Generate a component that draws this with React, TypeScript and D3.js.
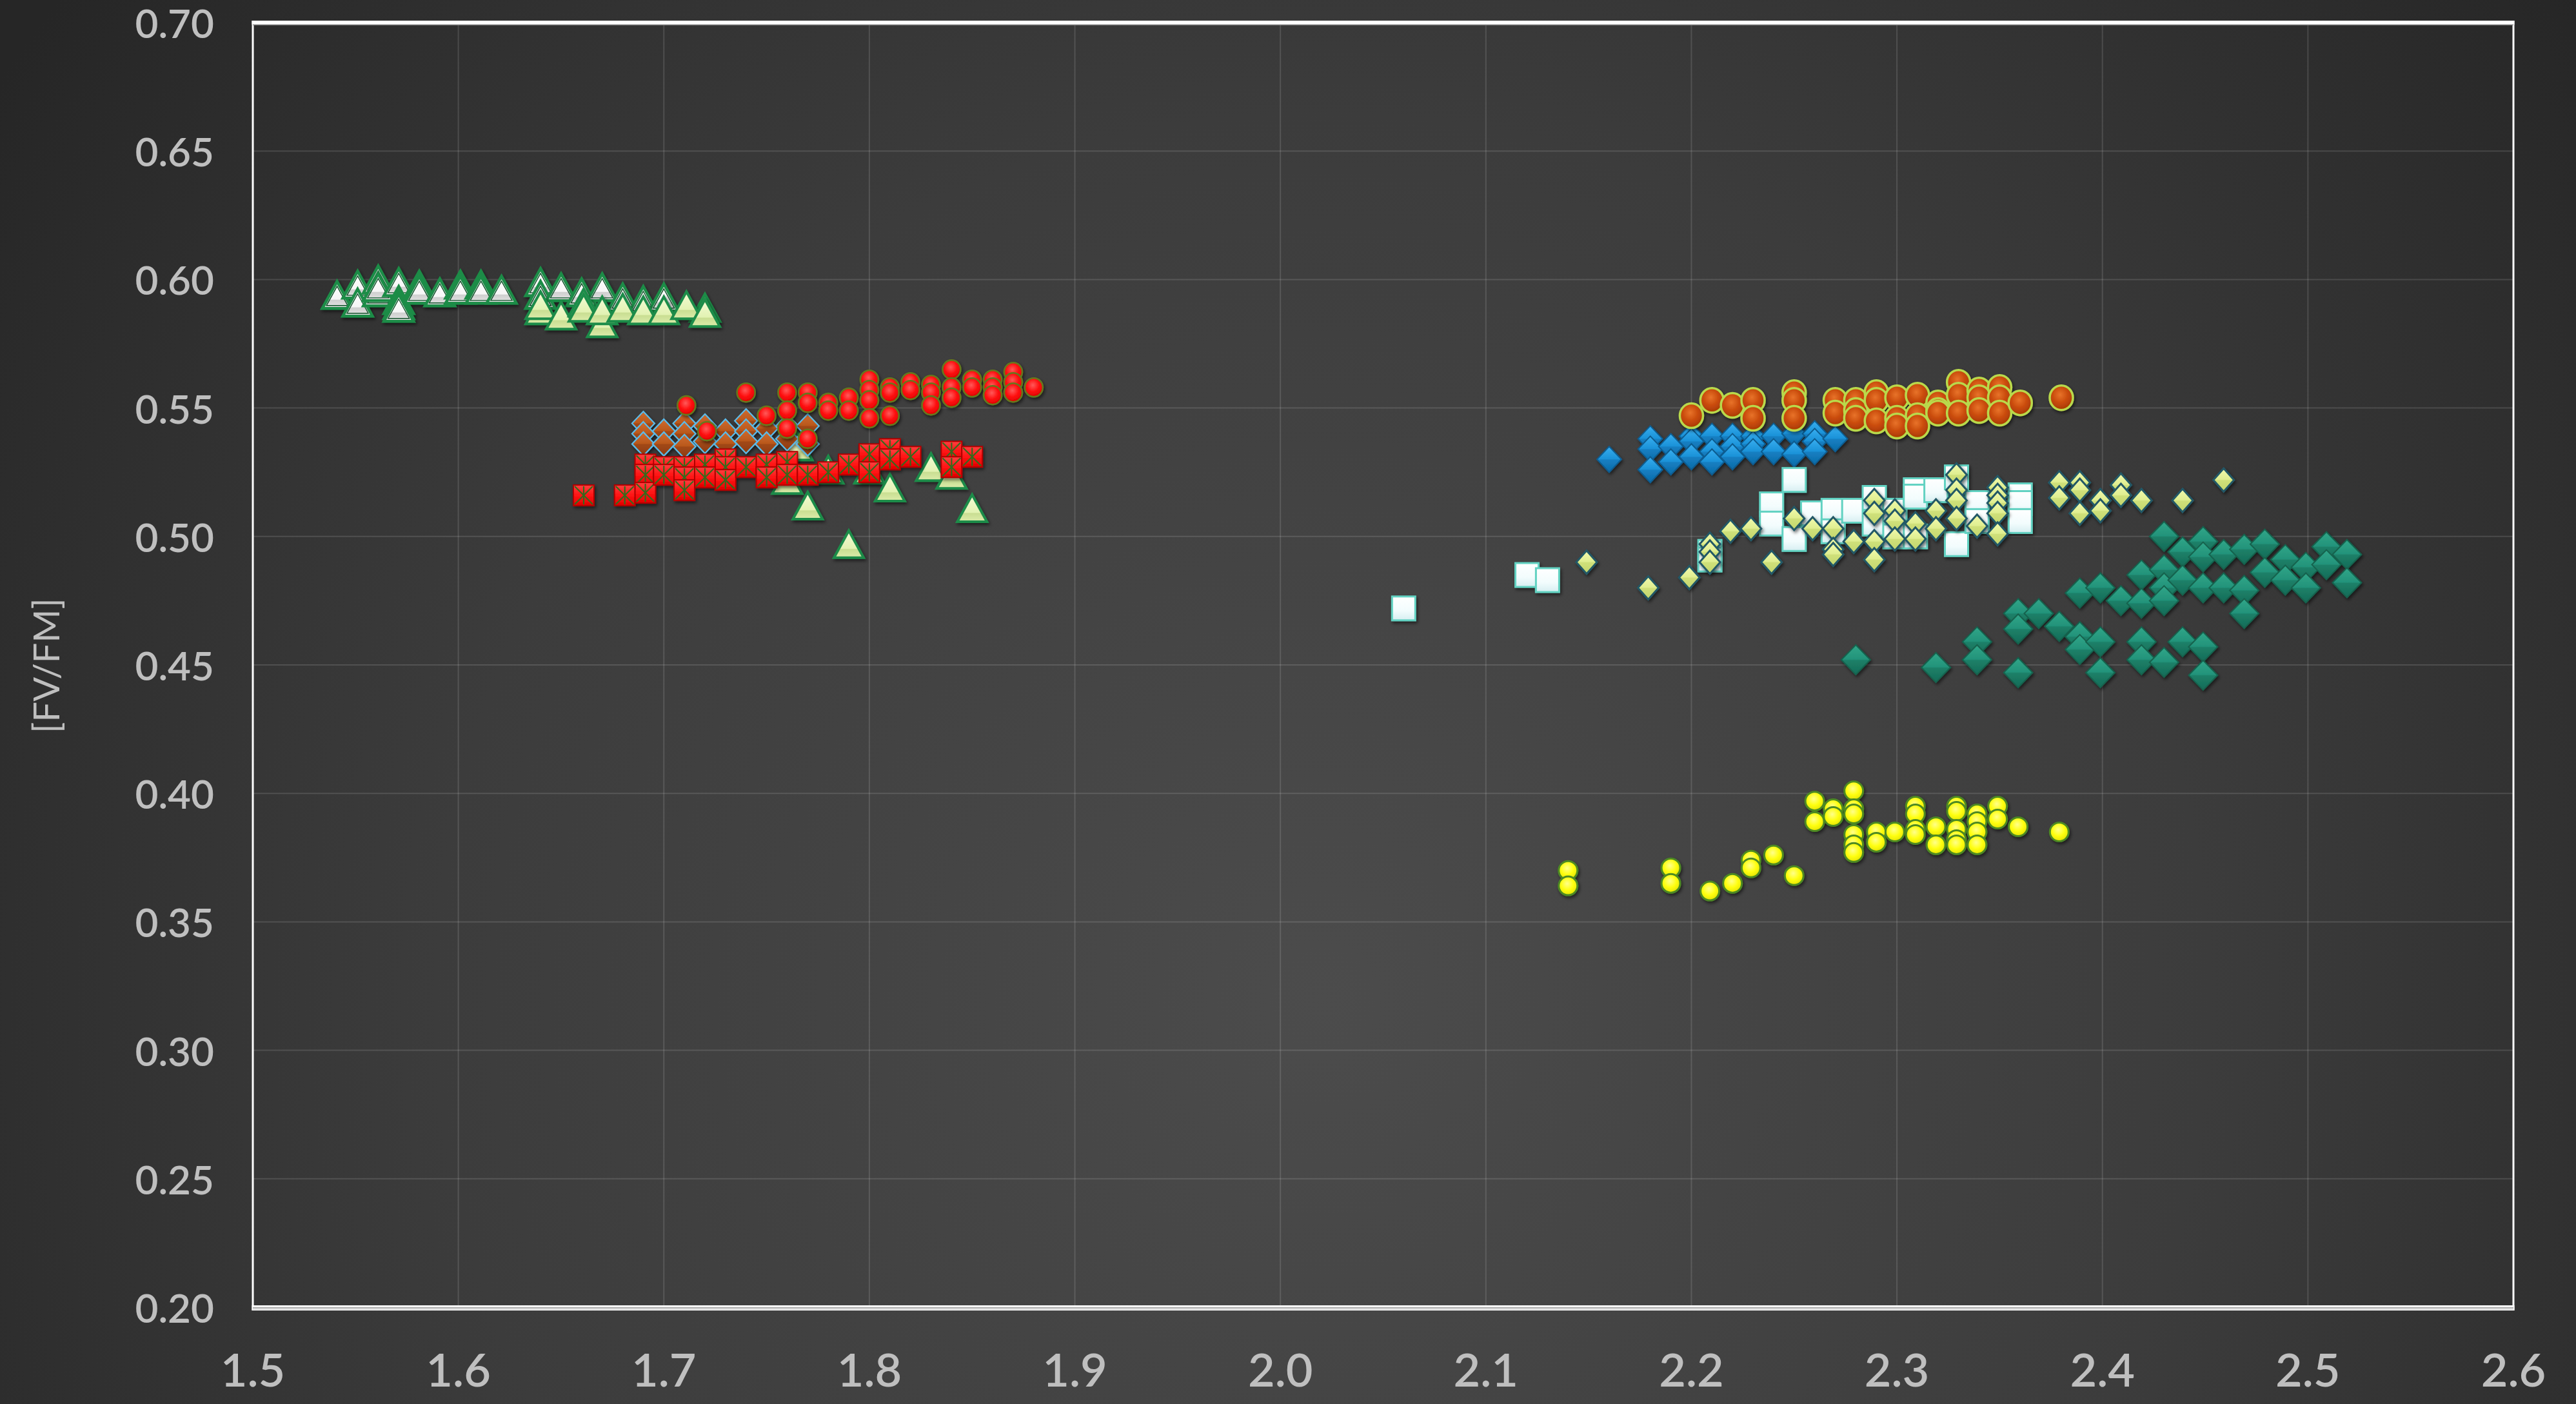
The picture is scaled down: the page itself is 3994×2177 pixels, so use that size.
import React from 'react';
import * as d3 from 'd3';

type Pt = [number, number];

// Axis ticks and title
const xTicks = [1.5, 1.6, 1.7, 1.8, 1.9, 2.0, 2.1, 2.2, 2.3, 2.4, 2.5, 2.6];
const yTicks = [0.2, 0.25, 0.3, 0.35, 0.4, 0.45, 0.5, 0.55, 0.6, 0.65, 0.7];
const yAxisTitle = '[FV/FM]';

// Series values: [x, FV/FM]
const whiteTriangles: Pt[] = [
  [1.541, 0.594], [1.551, 0.598], [1.551, 0.591], [1.561, 0.6], [1.561, 0.595], [1.561, 0.597],
  [1.571, 0.599], [1.571, 0.592], [1.571, 0.59], [1.571, 0.589], [1.581, 0.598], [1.581, 0.596],
  [1.591, 0.595], [1.601, 0.598], [1.601, 0.596], [1.611, 0.598], [1.611, 0.596], [1.621, 0.596],
  [1.64, 0.599], [1.64, 0.594], [1.65, 0.597], [1.66, 0.595], [1.67, 0.597], [1.68, 0.593],
  [1.69, 0.592], [1.7, 0.593], [1.72, 0.589],
];

const paleTriangles: Pt[] = [
  [1.64, 0.588], [1.64, 0.59], [1.65, 0.586], [1.661, 0.591], [1.661, 0.589], [1.67, 0.583],
  [1.67, 0.588], [1.68, 0.589], [1.69, 0.588], [1.7, 0.588], [1.711, 0.59], [1.72, 0.587],
  [1.765, 0.535], [1.76, 0.522], [1.77, 0.512], [1.78, 0.526], [1.79, 0.497], [1.8, 0.526],
  [1.81, 0.519], [1.83, 0.527], [1.84, 0.524], [1.85, 0.511],
];

const brownDiamonds: Pt[] = [
  [1.69, 0.544], [1.69, 0.54], [1.69, 0.536], [1.7, 0.541], [1.7, 0.536], [1.71, 0.544],
  [1.71, 0.54], [1.71, 0.535], [1.72, 0.543], [1.72, 0.537], [1.73, 0.541], [1.73, 0.536],
  [1.74, 0.545], [1.74, 0.541], [1.74, 0.537], [1.75, 0.542], [1.75, 0.536], [1.76, 0.543],
  [1.76, 0.538], [1.77, 0.543], [1.77, 0.536],
];

const redRects: Pt[] = [
  [1.661, 0.516], [1.681, 0.516], [1.691, 0.528], [1.691, 0.524], [1.691, 0.517], [1.7, 0.527],
  [1.7, 0.524], [1.71, 0.527], [1.71, 0.523], [1.71, 0.518], [1.72, 0.528], [1.72, 0.523],
  [1.73, 0.53], [1.73, 0.527], [1.73, 0.522], [1.74, 0.527], [1.75, 0.528], [1.75, 0.523],
  [1.76, 0.529], [1.76, 0.524], [1.77, 0.524], [1.78, 0.525], [1.79, 0.528], [1.8, 0.532],
  [1.8, 0.525], [1.81, 0.534], [1.81, 0.53], [1.82, 0.531], [1.84, 0.533], [1.84, 0.527],
  [1.85, 0.531],
];

const redCircles: Pt[] = [
  [1.711, 0.551], [1.74, 0.556], [1.721, 0.541], [1.75, 0.547], [1.76, 0.556], [1.76, 0.549],
  [1.76, 0.542], [1.77, 0.556], [1.77, 0.552], [1.77, 0.538], [1.78, 0.552], [1.78, 0.549],
  [1.79, 0.554], [1.79, 0.549], [1.8, 0.561], [1.8, 0.557], [1.8, 0.553], [1.8, 0.546],
  [1.81, 0.558], [1.81, 0.556], [1.81, 0.547], [1.82, 0.56], [1.82, 0.557], [1.83, 0.559],
  [1.83, 0.556], [1.83, 0.551], [1.84, 0.565], [1.84, 0.558], [1.84, 0.554], [1.85, 0.561],
  [1.85, 0.558], [1.86, 0.561], [1.86, 0.558], [1.86, 0.555], [1.87, 0.564], [1.87, 0.56],
  [1.87, 0.556], [1.88, 0.558],
];

const blueDiamonds: Pt[] = [
  [2.16, 0.53], [2.18, 0.538], [2.18, 0.534], [2.18, 0.526], [2.19, 0.535], [2.19, 0.529],
  [2.2, 0.539], [2.2, 0.537], [2.2, 0.531], [2.21, 0.539], [2.21, 0.533], [2.21, 0.529],
  [2.22, 0.539], [2.22, 0.535], [2.22, 0.531], [2.23, 0.539], [2.23, 0.536], [2.23, 0.533],
  [2.24, 0.539], [2.24, 0.533], [2.25, 0.54], [2.25, 0.532], [2.26, 0.54], [2.26, 0.537],
  [2.26, 0.533], [2.27, 0.538],
];

const orangeCircles: Pt[] = [
  [2.2, 0.547], [2.21, 0.553], [2.22, 0.551], [2.23, 0.553], [2.23, 0.546], [2.25, 0.556],
  [2.25, 0.553], [2.25, 0.546], [2.27, 0.553], [2.27, 0.548], [2.28, 0.553], [2.28, 0.549],
  [2.28, 0.546], [2.29, 0.556], [2.29, 0.553], [2.29, 0.545], [2.3, 0.554], [2.3, 0.546],
  [2.3, 0.543], [2.31, 0.555], [2.31, 0.547], [2.31, 0.543], [2.32, 0.552], [2.32, 0.549],
  [2.32, 0.548], [2.33, 0.56], [2.33, 0.555], [2.33, 0.548], [2.34, 0.557], [2.34, 0.554],
  [2.34, 0.549], [2.35, 0.558], [2.35, 0.554], [2.35, 0.548], [2.36, 0.552], [2.38, 0.554],
];

const whiteRects: Pt[] = [
  [2.06, 0.472], [2.12, 0.485], [2.13, 0.483], [2.209, 0.494], [2.209, 0.491], [2.239, 0.5125],
  [2.239, 0.505], [2.25, 0.522], [2.25, 0.499], [2.259, 0.509], [2.269, 0.51], [2.269, 0.502],
  [2.279, 0.51], [2.289, 0.515], [2.289, 0.505], [2.299, 0.51], [2.299, 0.5], [2.309, 0.518],
  [2.309, 0.5155], [2.309, 0.5], [2.319, 0.518], [2.329, 0.523], [2.329, 0.497], [2.339, 0.513],
  [2.339, 0.506], [2.36, 0.516], [2.36, 0.513], [2.36, 0.506],
];

const ygDiamonds: Pt[] = [
  [2.149, 0.49], [2.179, 0.48], [2.199, 0.484], [2.209, 0.497], [2.209, 0.494], [2.209, 0.49],
  [2.219, 0.502], [2.229, 0.503], [2.239, 0.49], [2.25, 0.507], [2.259, 0.503], [2.269, 0.503],
  [2.269, 0.495], [2.269, 0.493], [2.279, 0.498], [2.289, 0.514], [2.289, 0.509], [2.289, 0.498],
  [2.289, 0.491], [2.299, 0.51], [2.299, 0.506], [2.299, 0.499], [2.309, 0.505], [2.309, 0.499],
  [2.319, 0.51], [2.319, 0.503], [2.329, 0.524], [2.329, 0.518], [2.329, 0.514], [2.329, 0.507],
  [2.339, 0.504], [2.349, 0.519], [2.349, 0.516], [2.349, 0.513], [2.349, 0.509], [2.349, 0.501],
  [2.379, 0.521], [2.379, 0.515], [2.389, 0.521], [2.389, 0.518], [2.389, 0.509], [2.399, 0.514],
  [2.399, 0.51], [2.409, 0.52], [2.409, 0.516], [2.419, 0.514], [2.439, 0.514], [2.459, 0.522],
];

const tealDiamonds: Pt[] = [
  [2.28, 0.452], [2.319, 0.449], [2.339, 0.459], [2.339, 0.452], [2.359, 0.47], [2.359, 0.464],
  [2.359, 0.447], [2.369, 0.47], [2.379, 0.465], [2.389, 0.478], [2.389, 0.461], [2.389, 0.456],
  [2.399, 0.48], [2.399, 0.459], [2.399, 0.447], [2.409, 0.475], [2.419, 0.485], [2.419, 0.474],
  [2.419, 0.459], [2.419, 0.452], [2.43, 0.5], [2.43, 0.487], [2.43, 0.48], [2.43, 0.475],
  [2.43, 0.451], [2.439, 0.494], [2.439, 0.483], [2.439, 0.459], [2.449, 0.498], [2.449, 0.492],
  [2.449, 0.48], [2.449, 0.457], [2.449, 0.446], [2.459, 0.493], [2.459, 0.48], [2.469, 0.495],
  [2.469, 0.479], [2.469, 0.47], [2.479, 0.497], [2.479, 0.486], [2.489, 0.491], [2.489, 0.483],
  [2.499, 0.488], [2.499, 0.48], [2.509, 0.496], [2.509, 0.489], [2.519, 0.493], [2.519, 0.482],
];

const yellowCircles: Pt[] = [
  [2.14, 0.37], [2.14, 0.364], [2.19, 0.371], [2.19, 0.365], [2.209, 0.362], [2.22, 0.365],
  [2.229, 0.374], [2.229, 0.371], [2.24, 0.376], [2.25, 0.368], [2.26, 0.397], [2.26, 0.389],
  [2.269, 0.394], [2.269, 0.391], [2.279, 0.401], [2.279, 0.394], [2.279, 0.392], [2.279, 0.384],
  [2.279, 0.38], [2.279, 0.377], [2.29, 0.385], [2.29, 0.381], [2.299, 0.385], [2.309, 0.395],
  [2.309, 0.392], [2.309, 0.386], [2.309, 0.384], [2.319, 0.387], [2.319, 0.38], [2.329, 0.395],
  [2.329, 0.393], [2.329, 0.386], [2.329, 0.382], [2.329, 0.38], [2.339, 0.392], [2.339, 0.389],
  [2.339, 0.385], [2.339, 0.38], [2.349, 0.395], [2.349, 0.39], [2.359, 0.387], [2.379, 0.385],
];

const W = 3994;
const H = 2177;
const plot = { left: 392, right: 3897, top: 35, bottom: 2027 };
const font = 'Lato, "Open Sans", sans-serif';
const labelColor = '#bfbfbf';

type Shape = 'triangle' | 'diamond' | 'rect' | 'ellipse';

interface SeriesDef {
  id: string;
  data: Pt[];
  shape: Shape;
  w: number;
  h: number;
  stops: [number, string][];
  radial?: boolean;
  stroke: string;
  strokeWidth: number;
  cross?: string;
  inner?: string;
}

const series: SeriesDef[] = [
  {
    id: 'whiteTri', data: whiteTriangles, shape: 'triangle', w: 46, h: 42,
    stops: [[0, '#ffffff'], [0.66, '#f6f6f6'], [0.69, '#cfcfcf'], [1, '#e6e6e6']],
    stroke: '#1d8c46', strokeWidth: 4.5, inner: '#0e4f28',
  },
  {
    id: 'paleTri', data: paleTriangles, shape: 'triangle', w: 46, h: 42,
    stops: [[0, '#f3fbd6'], [0.66, '#e2f2b2'], [0.69, '#c9de92'], [1, '#dcecaa']],
    stroke: '#1e8c4a', strokeWidth: 4,
  },
  {
    id: 'brownDia', data: brownDiamonds, shape: 'diamond', w: 35, h: 37,
    stops: [[0, '#cf6c30'], [0.48, '#b9581c'], [0.52, '#a24814'], [1, '#8c3c10']],
    stroke: '#5cbbe9', strokeWidth: 2.2,
  },
  {
    id: 'redRect', data: redRects, shape: 'rect', w: 32, h: 32,
    stops: [[0, '#ff4040'], [0.5, '#ff1414'], [1, '#e00000']],
    stroke: '#b00000', strokeWidth: 2, cross: '#356b1e',
  },
  {
    id: 'redCirc', data: redCircles, shape: 'ellipse', w: 28, h: 29,
    stops: [[0, '#ff5a5a'], [0.55, '#ff1010'], [1, '#dc0000']], radial: true,
    stroke: '#66781e', strokeWidth: 2.6,
  },
  {
    id: 'blueDia', data: blueDiamonds, shape: 'diamond', w: 38, h: 40,
    stops: [[0, '#38aef0'], [0.48, '#1b92d8'], [0.52, '#147fc2'], [1, '#0e6aa6']],
    stroke: '#0b5c90', strokeWidth: 2,
  },
  {
    id: 'orangeCirc', data: orangeCircles, shape: 'ellipse', w: 36, h: 38,
    stops: [[0, '#e8732a'], [0.55, '#c84a0a'], [1, '#a63a04']], radial: true,
    stroke: '#b9d94c', strokeWidth: 3.5,
  },
  {
    id: 'whiteRect', data: whiteRects, shape: 'rect', w: 36, h: 37,
    stops: [[0, '#ffffff'], [0.6, '#f2fcfd'], [1, '#d6eef1']],
    stroke: '#62d2c2', strokeWidth: 3,
  },
  {
    id: 'ygDia', data: ygDiamonds, shape: 'diamond', w: 32, h: 36,
    stops: [[0, '#f2faae'], [0.48, '#dfee90'], [0.52, '#cfe07a'], [1, '#c2d66c']],
    stroke: '#235866', strokeWidth: 3,
  },
  {
    id: 'tealDia', data: tealDiamonds, shape: 'diamond', w: 45, h: 46,
    stops: [[0, '#31a689'], [0.48, '#23937a'], [0.52, '#1c8068'], [1, '#166b57']],
    stroke: '#13624d', strokeWidth: 2,
  },
  {
    id: 'yellowCirc', data: yellowCircles, shape: 'ellipse', w: 29, h: 29,
    stops: [[0, '#ffff8a'], [0.55, '#ffff10'], [1, '#e4e400']], radial: true,
    stroke: '#4d8a22', strokeWidth: 3,
  },
];

function trianglePath(cx: number, cy: number, w: number, h: number): string {
  const p = d3.path();
  p.moveTo(cx, cy - h / 2);
  p.lineTo(cx + w / 2, cy + h / 2);
  p.lineTo(cx - w / 2, cy + h / 2);
  p.closePath();
  return p.toString();
}

function diamondPath(cx: number, cy: number, w: number, h: number): string {
  const p = d3.path();
  p.moveTo(cx, cy - h / 2);
  p.lineTo(cx + w / 2, cy);
  p.lineTo(cx, cy + h / 2);
  p.lineTo(cx - w / 2, cy);
  p.closePath();
  return p.toString();
}

function Marker({ s, cx, cy }: { s: SeriesDef; cx: number; cy: number }) {
  const fill = `url(#g-${s.id})`;
  const { w, h } = s;
  if (s.shape === 'triangle') {
    return (
      <g>
        <path d={trianglePath(cx, cy, w, h)} fill={fill} stroke={s.stroke} strokeWidth={s.strokeWidth} strokeLinejoin="miter" />
        {s.inner && (
          <path d={trianglePath(cx, cy + 1.5, w - 13, h - 12)} fill="none" stroke={s.inner} strokeWidth={1.4} />
        )}
      </g>
    );
  }
  if (s.shape === 'diamond') {
    return <path d={diamondPath(cx, cy, w, h)} fill={fill} stroke={s.stroke} strokeWidth={s.strokeWidth} />;
  }
  if (s.shape === 'rect') {
    const x0 = cx - w / 2;
    const y0 = cy - h / 2;
    return (
      <g>
        <rect x={x0} y={y0} width={w} height={h} fill={fill} stroke={s.stroke} strokeWidth={s.strokeWidth} />
        {s.cross && (
          <g stroke={s.cross} strokeWidth={2.2}>
            <line x1={x0 + 2} y1={y0 + 2} x2={x0 + w - 2} y2={y0 + h - 2} />
            <line x1={x0 + w - 2} y1={y0 + 2} x2={x0 + 2} y2={y0 + h - 2} />
            <line x1={cx} y1={y0 + 2} x2={cx} y2={y0 + h - 2} />
          </g>
        )}
      </g>
    );
  }
  return <ellipse cx={cx} cy={cy} rx={w / 2} ry={h / 2} fill={fill} stroke={s.stroke} strokeWidth={s.strokeWidth} />;
}

export default function App() {
  const x = d3.scaleLinear().domain([1.5, 2.6]).range([plot.left, plot.right]);
  const y = d3.scaleLinear().domain([0.2, 0.7]).range([plot.bottom, plot.top]);

  return (
    <svg
      width={W}
      height={H}
      viewBox={`0 0 ${W} ${H}`}
      style={{ position: 'absolute', left: 0, top: 0, display: 'block' }}
    >
      <defs>
        <radialGradient id="bg" gradientUnits="userSpaceOnUse" cx={2050} cy={1550} r={2500}>
          <stop offset="0" stopColor="#4c4c4c" />
          <stop offset="0.55" stopColor="#3c3c3c" />
          <stop offset="1" stopColor="#262626" />
        </radialGradient>
        {series.map((s) =>
          s.radial ? (
            <radialGradient key={s.id} id={`g-${s.id}`} cx="0.45" cy="0.38" r="0.62">
              {s.stops.map(([o, c], i) => (
                <stop key={i} offset={o} stopColor={c} />
              ))}
            </radialGradient>
          ) : (
            <linearGradient key={s.id} id={`g-${s.id}`} x1="0" y1="0" x2="0" y2="1">
              {s.stops.map(([o, c], i) => (
                <stop key={i} offset={o} stopColor={c} />
              ))}
            </linearGradient>
          )
        )}
        <filter id="shadow" x="-10%" y="-10%" width="120%" height="120%">
          <feDropShadow dx="2" dy="3" stdDeviation="2.5" floodColor="#000" floodOpacity="0.55" />
        </filter>
      </defs>

      <rect x={0} y={0} width={W} height={H} fill="url(#bg)" />

      {/* gridlines */}
      <g stroke="#ffffff" strokeOpacity={0.13} strokeWidth={2}>
        {xTicks.slice(1, -1).map((t) => (
          <line key={`vx${t}`} x1={x(t)} x2={x(t)} y1={plot.top} y2={plot.bottom} />
        ))}
        {yTicks.slice(1, -1).map((t) => (
          <line key={`hy${t}`} x1={plot.left} x2={plot.right} y1={y(t)} y2={y(t)} />
        ))}
      </g>

      {/* markers */}
      {series.map((s) => (
        <g key={s.id} filter="url(#shadow)">
          {s.data.map(([vx, vy], i) => (
            <Marker key={i} s={s} cx={x(vx)} cy={y(vy)} />
          ))}
        </g>
      ))}

      {/* plot frame */}
      <g fill="none">
        <line x1={plot.left} x2={plot.left} y1={plot.top - 3} y2={plot.bottom + 5} stroke="#ffffff" strokeWidth={3} />
        <line x1={plot.right} x2={plot.right} y1={plot.top - 3} y2={plot.bottom + 5} stroke="#ffffff" strokeWidth={3} />
        <rect x={plot.left - 1.5} y={plot.top - 3} width={plot.right - plot.left + 3} height={6} fill="#ffffff" />
        <line x1={plot.left} x2={plot.right} y1={plot.top + 3.5} y2={plot.top + 3.5} stroke="#8a8a8a" strokeWidth={1.5} />
        <rect x={plot.left - 1.5} y={plot.bottom - 3} width={plot.right - plot.left + 3} height={8} fill="#ffffff" />
        <line x1={plot.left} x2={plot.right} y1={plot.bottom + 0.5} y2={plot.bottom + 0.5} stroke="#8a8a8a" strokeWidth={1.2} />
        <line x1={plot.left} x2={plot.right} y1={plot.bottom + 2.5} y2={plot.bottom + 2.5} stroke="#9a9a9a" strokeWidth={1} />
      </g>

      {/* y tick labels */}
      <g fill={labelColor} fontFamily={font} fontSize={62} fontWeight={600} textAnchor="end">
        {yTicks.map((t) => (
          <text key={`yl${t}`} x={332} y={y(t)} dominantBaseline="central">
            {t.toFixed(2)}
          </text>
        ))}
      </g>

      {/* x tick labels */}
      <g fill={labelColor} fontFamily={font} fontSize={72} fontWeight={600} textAnchor="middle">
        {xTicks.map((t) => (
          <text key={`xl${t}`} x={x(t)} y={2150}>
            {t.toFixed(1)}
          </text>
        ))}
      </g>

      {/* y axis title */}
      <text
        transform={`translate(${92},${1032}) rotate(-90)`}
        fill={labelColor}
        fontFamily={font}
        fontSize={56}
        textAnchor="middle"
      >
        {yAxisTitle}
      </text>
    </svg>
  );
}
